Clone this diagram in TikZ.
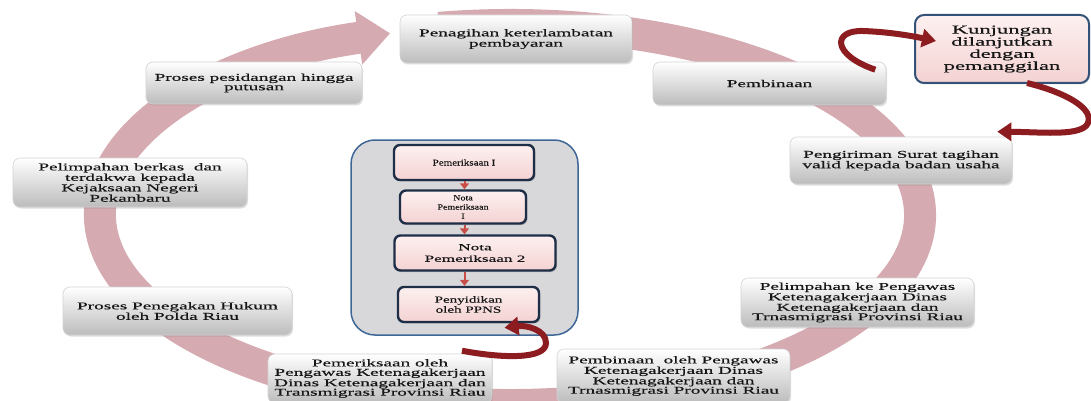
\documentclass[tikz,border=0pt]{standalone}
\usepackage{fontspec}
\setmainfont{Liberation Serif}[FakeStretch=1.85,FakeBold=0.35]
\newfontfamily\narrowA{Liberation Serif}[FakeStretch=1.25,FakeBold=0.3]
\newfontfamily\narrowB{Liberation Serif}[FakeStretch=1.6,FakeBold=0.3]
\usetikzlibrary{arrows.meta,shadows}

\definecolor{ringc}{RGB}{214,170,177}
\definecolor{darkred}{RGB}{140,28,32}
\definecolor{boxbot}{RGB}{188,188,188}
\definecolor{boxedge}{RGB}{212,212,212}
\definecolor{pinktop}{RGB}{253,240,240}
\definecolor{pinkbot}{RGB}{244,210,210}
\definecolor{navy}{RGB}{30,46,70}
\definecolor{kunedge}{RGB}{52,82,120}
\definecolor{contfill}{RGB}{216,216,219}
\definecolor{contedge}{RGB}{62,102,150}
\definecolor{smallred}{RGB}{198,78,70}
\definecolor{txt}{RGB}{22,22,22}

\tikzset{
  graybox/.style={rounded corners=7pt, top color=white, bottom color=boxbot,
    draw=boxedge, line width=0.6pt, inner sep=0pt, align=center, text=txt,
    font=\fontsize{10.4}{9.4}\selectfont,
    drop shadow={shadow xshift=1pt,shadow yshift=-1.5pt,opacity=0.25}},
  kunbox/.style={rounded corners=9pt, top color=pinktop, bottom color=pinkbot,
    draw=kunedge, line width=2pt, inner sep=0pt, align=center, text=txt,
    font=\fontsize{12.2}{11}\selectfont,
    drop shadow={shadow xshift=1pt,shadow yshift=-1.5pt,opacity=0.3}},
  pinkbox/.style={rounded corners=6pt, top color=pinktop, bottom color=pinkbot,
    draw=navy, line width=2.4pt, inner sep=0pt, align=center, text=txt,
    drop shadow={shadow xshift=1.5pt,shadow yshift=-1.5pt,opacity=0.35}},
  container/.style={rounded corners=24pt, fill=contfill, draw=contedge,
    line width=1.5pt, inner sep=0pt},
  ringstyle/.style={draw=ringc, line width=32pt},
  darrow/.style={draw=darkred, line width=6pt,
    -{Triangle[width=18pt,length=14pt]}},
  smallarr/.style={draw=smallred, line width=2pt,
    -{Triangle[width=9pt,length=6pt]}}
}

\begin{document}
\begin{tikzpicture}[x=1pt,y=-1pt]
\useasboundingbox[fill=white] (0,0) rectangle (1091,401);

% big circular arrow
\draw[ringstyle, -{Triangle[width=52pt,length=32pt]}]
  (510,215) ++(-100:410 and 190)
  arc[start angle=-100, end angle=253, x radius=410, y radius=190];

% central container
\node[container, minimum width=227pt, minimum height=195pt] (cont) at (464.5,237.5) {};

% grey process boxes
\node[graybox, minimum width=232pt, minimum height=48pt] (pen) at (516,39)
  {Penagihan keterlambatan\\pembayaran};
\node[graybox, minimum width=233pt, minimum height=43pt] (pemb) at (769.5,83.5)
  {Pembinaan};
\node[kunbox, minimum width=174pt, minimum height=68pt] (kun) at (1002,49)
  {Kunjungan\\dilanjutkan\\dengan\\pemanggilan};
\node[graybox, minimum width=222pt, minimum height=47pt] (peng) at (901,160.5)
  {Pengiriman Surat tagihan\\valid kepada badan usaha};
\node[graybox, minimum width=233pt, minimum height=49pt] (pelke) at (857.5,302.5)
  {Pelimpahan ke Pengawas\\Ketenagakerjaan Dinas\\Ketenagakerjaan dan\\Trnasmigrasi Provinsi Riau};
\node[graybox, minimum width=233pt, minimum height=54pt] (pembol) at (673.5,376)
  {Pembinaan~\ oleh Pengawas\\Ketenagakerjaan Dinas\\Ketenagakerjaan dan\\Trnasmigrasi Provinsi Riau};
\node[graybox, minimum width=224pt, minimum height=49pt] (pemol) at (380,378.5)
  {Pemeriksaan oleh\\Pengawas Ketenagakerjaan\\Dinas Ketenagakerjaan dan\\Transmigrasi Provinsi Riau};
\node[graybox, minimum width=229pt, minimum height=48pt] (pros) at (177.5,311)
  {Proses Penegakan Hukum\\oleh Polda Riau};
\node[graybox, minimum width=234pt, minimum height=49pt] (pelb) at (130,182.5)
  {Pelimpahan berkas~\ dan\\terdakwa kepada\\Kejaksaan Negeri\\Pekanbaru};
\node[graybox, minimum width=216pt, minimum height=42pt] (prosp) at (254,83)
  {Proses pesidangan hingga\\putusan};

% inner pink boxes
\node[pinkbox, minimum width=140pt, minimum height=35pt,
  font=\narrowA\fontsize{8.8}{8.5}\selectfont] (p1) at (464,162.5) {Pemeriksaan I};
\node[pinkbox, minimum width=126pt, minimum height=33pt,
  font=\narrowA\fontsize{8}{9.2}\selectfont] (p2) at (463,207) {Nota\\Pemeriksaan\\I};
\node[pinkbox, minimum width=161pt, minimum height=35pt,
  font=\fontsize{9.3}{11.5}\selectfont] (p3) at (475,253) {Nota\\Pemeriksaan 2};
\node[pinkbox, minimum width=141pt, minimum height=35pt,
  font=\narrowB\fontsize{9.4}{10}\selectfont] (p4) at (468.5,304.5) {Penyidikan\\oleh PPNS};

% small red arrows
\draw[smallarr] (p1.south -| cont.center) -- (p2.north -| cont.center);
\draw[smallarr] (p2.south -| cont.center) -- (p3.north -| cont.center);
\draw[smallarr] (p3.south -| cont.center) -- (p4.north -| cont.center);

% dark red curved arrows
\draw[darrow] ([xshift=-11pt,yshift=-8pt]pemb.north east)
  .. controls (832,55) and (832,30) .. (863,31)
  .. controls (890,32) and (912,36) .. ([xshift=22pt,yshift=8pt]kun.west);
\draw[darrow] ([xshift=25pt,yshift=1pt]kun.south)
  .. controls (1075,95) and (1097,113) .. (1086,126)
  .. controls (1075,136) and (1040,132) .. ([xshift=-15pt,yshift=5pt]peng.north east);
\draw[darrow] ([xshift=82pt,yshift=3pt]pemol.north)
  .. controls (500,358) and (546,360) .. (546,343)
  .. controls (546,330) and (527,325) .. ([xshift=36pt,yshift=-4.5pt]p4.south);
\end{tikzpicture}
\end{document}
